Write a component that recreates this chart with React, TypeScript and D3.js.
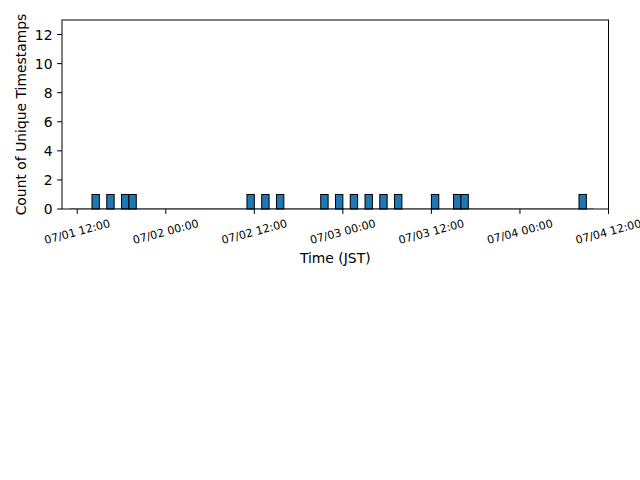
import React, { useEffect, useRef } from "react";
import * as d3 from "d3";

// hourly histogram: start hour (JST) of each non-empty bin and its count
const binHours = [
  "2024-07-01 14:00",
  "2024-07-01 16:00",
  "2024-07-01 18:00",
  "2024-07-01 19:00",
  "2024-07-02 11:00",
  "2024-07-02 13:00",
  "2024-07-02 15:00",
  "2024-07-02 21:00",
  "2024-07-02 23:00",
  "2024-07-03 01:00",
  "2024-07-03 03:00",
  "2024-07-03 05:00",
  "2024-07-03 07:00",
  "2024-07-03 12:00",
  "2024-07-03 15:00",
  "2024-07-03 16:00",
  "2024-07-04 08:00",
];
const binCounts = [1, 1, 1, 1, 1, 1, 1, 1, 1, 1, 1, 1, 1, 1, 1, 1, 1];

// first and last edge of the histogram bins (empty bins included)
const histRange = ["2024-07-01 11:00", "2024-07-04 10:00"];
const xLimits = ["2024-07-01 09:56", "2024-07-04 12:00"];
const xTicks = [
  "2024-07-01 12:00",
  "2024-07-02 00:00",
  "2024-07-02 12:00",
  "2024-07-03 00:00",
  "2024-07-03 12:00",
  "2024-07-04 00:00",
  "2024-07-04 12:00",
];
const yTicks = [0, 2, 4, 6, 8, 10, 12];
const yMax = 13;

const parse = d3.timeParse("%Y-%m-%d %H:%M");
const fmt = d3.timeFormat("%m/%d %H:%M");
const HOUR = 3600 * 1000;

export default function App() {
  const svgRef = useRef<SVGSVGElement>(null);

  useEffect(() => {
    const svg = d3.select(svgRef.current);
    svg.selectAll("*").remove();

    const width = 640;
    const height = 480;
    const left = 62;
    const right = 608.5;
    const top = 20;
    const bottom = 209;
    const font = "DejaVu Sans, sans-serif";

    const x = d3.scaleTime()
      .domain(xLimits.map(d => parse(d) as Date))
      .range([left, right]);
    const y = d3.scaleLinear().domain([0, yMax]).range([bottom, top]);

    svg.append("rect")
      .attr("width", width)
      .attr("height", height)
      .attr("fill", "white");

    // empty bins show up as a thin line along zero
    svg.append("line")
      .attr("x1", x(parse(histRange[0]) as Date))
      .attr("x2", x(parse(histRange[1]) as Date))
      .attr("y1", y(0) - 0.5)
      .attr("y2", y(0) - 0.5)
      .attr("stroke", "#b0b0b0")
      .attr("stroke-width", 1);

    const bins = binHours.map((h, i) => ({ t: parse(h) as Date, c: binCounts[i] }));
    svg.selectAll(".bar")
      .data(bins)
      .enter()
      .append("rect")
      .attr("class", "bar")
      .attr("x", d => x(d.t))
      .attr("y", d => y(d.c))
      .attr("width", d => x(new Date(d.t.getTime() + HOUR)) - x(d.t))
      .attr("height", d => y(0) - y(d.c))
      .attr("fill", "#1f77b4")
      .attr("stroke", "black")
      .attr("stroke-width", 1);

    // frame
    svg.append("rect")
      .attr("x", left)
      .attr("y", top)
      .attr("width", right - left)
      .attr("height", bottom - top)
      .attr("fill", "none")
      .attr("stroke", "black")
      .attr("stroke-width", 1);

    // x ticks
    const xt = svg.append("g");
    xTicks.forEach(s => {
      const t = parse(s) as Date;
      const px = x(t);
      xt.append("line")
        .attr("x1", px).attr("x2", px)
        .attr("y1", bottom).attr("y2", bottom + 4.9)
        .attr("stroke", "black");
      xt.append("text")
        .attr("transform", `translate(${px},${bottom + 23}) rotate(-15)`)
        .attr("text-anchor", "middle")
        .attr("dominant-baseline", "central")
        .style("font-family", font)
        .style("font-size", "11.1px")
        .text(fmt(t));
    });

    // y ticks
    const yt = svg.append("g");
    yTicks.forEach(v => {
      yt.append("line")
        .attr("x1", left - 4.9).attr("x2", left)
        .attr("y1", y(v)).attr("y2", y(v))
        .attr("stroke", "black");
      yt.append("text")
        .attr("x", left - 9.5)
        .attr("y", y(v))
        .attr("text-anchor", "end")
        .attr("dominant-baseline", "central")
        .style("font-family", font)
        .style("font-size", "13.9px")
        .text(v);
    });

    svg.append("text")
      .attr("x", (left + right) / 2)
      .attr("y", 263)
      .attr("text-anchor", "middle")
      .style("font-family", font)
      .style("font-size", "13.9px")
      .text("Time (JST)");

    svg.append("text")
      .attr("transform", `translate(21,${(top + bottom) / 2}) rotate(-90)`)
      .attr("text-anchor", "middle")
      .attr("dominant-baseline", "central")
      .style("font-family", font)
      .style("font-size", "13.9px")
      .text("Count of Unique Timestamps");
  }, []);

  return (
    <svg
      ref={svgRef}
      width={640}
      height={480}
      style={{ position: "absolute", left: 0, top: 0, display: "block" }}
    />
  );
}
